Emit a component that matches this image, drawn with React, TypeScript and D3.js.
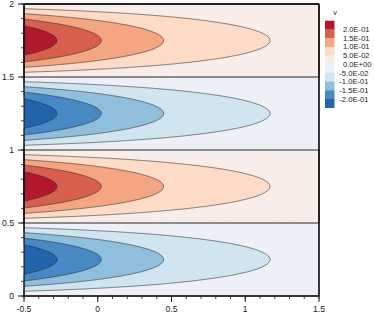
import React, { useMemo } from "react";
import * as d3 from "d3";

// Amplitude of v along x at the peak rows
const ampX = [-0.5, -0.25, 0, 0.25, 0.5, 0.75, 1, 1.25, 1.5];
const ampV = [0.248, 0.195, 0.1535, 0.1207, 0.095, 0.0747, 0.0588, 0.0462, 0.0364];
// Row peaks: y position of each lobe and its sign
const lobeY = [0.25, 0.75, 1.25, 1.75];
const lobeSign = [-1, 1, -1, 1];
// Contour levels and legend
const levels = [-0.2, -0.15, -0.1, -0.05, 0, 0.05, 0.1, 0.15, 0.2];
const levelLabels = ["2.0E-01", "1.5E-01", "1.0E-01", "5.0E-02", "0.0E+00", "-5.0E-02", "-1.0E-01", "-1.5E-01", "-2.0E-01"];
// band colours, high to low
const bandColors = ["#b2182b", "#d6604d", "#f4a582", "#fddbc7", "#f8ede8", "#edf1f7", "#d1e5f0", "#90bedd", "#4689c4", "#2264ac"];
const xTicks = [-0.5, 0, 0.5, 1, 1.5];
const yTicks = [0, 0.5, 1, 1.5, 2];

const W = 374, H = 313;
const FONT = "'Liberation Sans', Arial, sans-serif";

export default function App() {
  const x = d3.scaleLinear().domain([-0.5, 1.5]).range([24, 319]);
  const y = d3.scaleLinear().domain([0, 2]).range([296, 4]);
  const nx = 400, ny = 400;

  const { fills, lines } = useMemo(() => {
    const logAmp = d3.scaleLinear().domain(ampX).range(ampV.map(Math.log)).clamp(true);
    const vals = new Array(nx * ny);
    for (let j = 0; j < ny; j++) {
      const yy = 2 - ((j + 0.5) * 2) / ny;
      let k = 0;
      for (let q = 0; q < lobeY.length; q++) if (Math.abs(yy - lobeY[q]) < Math.abs(yy - lobeY[k])) k = q;
      const prof = lobeSign[k] * Math.cos(2 * Math.PI * (yy - lobeY[k]));
      for (let i = 0; i < nx; i++) {
        const xx = -0.5 + ((i + 0.5) * 2) / nx;
        vals[j * nx + i] = Math.exp(logAmp(xx)) * prof;
      }
    }
    const gen = d3.contours().size([nx, ny]).thresholds(levels);
    const cs = gen(vals);
    const proj = d3.geoTransform({
      point(px: number, py: number) {
        (this as any).stream.point(x(-0.5 + (px * 2) / nx), y(2 - (py * 2) / ny));
      },
    });
    const path = d3.geoPath(proj);
    const low = bandColors.slice().reverse();
    const fills = cs.map((c, i) => ({ d: path(c) || "", color: low[i + 1], value: c.value }));
    return { fills, lines: fills };
  }, []);

  const xMinor = d3.range(-0.5, 1.5001, 0.1);
  const yMinor = d3.range(0, 2.0001, 0.1);
  const boxTop = 20.7, boxH = 8.7, boxX = 325, boxW = 9.5;

  return (
    <svg width={W} height={H} style={{ position: "absolute", left: 0, top: 0, background: "#fff" }} fontFamily={FONT}>
      <rect x={24} y={4} width={295} height={292} fill={bandColors[9]} />
      {fills.map((f, i) => (
        <path key={"f" + i} d={f.d} fill={f.color} stroke="none" />
      ))}
      {lines.map((f, i) => (
        <path key={"l" + i} d={f.d} fill="none" stroke={f.value === 0 ? "#111" : "#2a2a2a"} strokeWidth={f.value === 0 ? 1 : 0.6} />
      ))}
      <rect x={24} y={4} width={295} height={292} fill="none" stroke="#111" strokeWidth={1} />
      {xMinor.map((t, i) => (
        <line key={"xm" + i} x1={x(t)} x2={x(t)} y1={296} y2={299} stroke="#1a1a1a" strokeWidth={0.8} />
      ))}
      {xTicks.map((t) => (
        <g key={"xt" + t}>
          <line x1={x(t)} x2={x(t)} y1={296} y2={302} stroke="#1a1a1a" strokeWidth={1} />
          <text x={x(t)} y={312} fontSize={8.6} textAnchor="middle" fill="#222">{t}</text>
        </g>
      ))}
      {yMinor.map((t, i) => (
        <line key={"ym" + i} x1={21} x2={24} y1={y(t)} y2={y(t)} stroke="#1a1a1a" strokeWidth={0.8} />
      ))}
      {yTicks.map((t) => (
        <g key={"yt" + t}>
          <line x1={18} x2={24} y1={y(t)} y2={y(t)} stroke="#1a1a1a" strokeWidth={1} />
          <text x={14} y={y(t)} dy="0.35em" fontSize={8.6} textAnchor="end" fill="#222">{t}</text>
        </g>
      ))}
      <text x={335} y={15} fontSize={7.5} textAnchor="middle" fill="#222">v</text>
      {bandColors.map((c, i) => (
        <rect key={"lb" + i} x={boxX} y={boxTop + i * boxH} width={boxW} height={boxH + 0.3} fill={c} />
      ))}
      {levelLabels.map((l, i) => (
        <text key={"ll" + i} x={l.startsWith("-") ? 339.3 : 343} y={boxTop + (i + 1) * boxH} dy="0.35em" fontSize={7.6} fill="#222">{l}</text>
      ))}
    </svg>
  );
}
